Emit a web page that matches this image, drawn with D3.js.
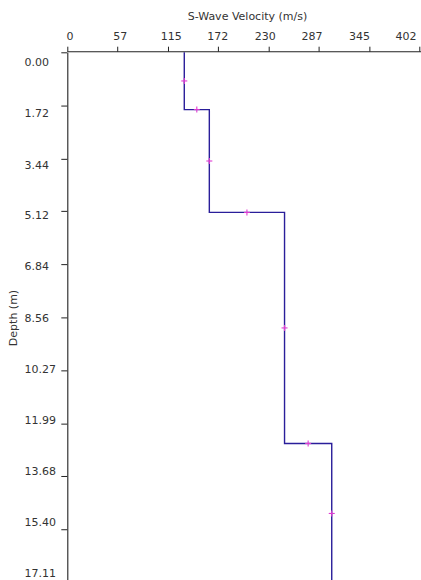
<!DOCTYPE html>
<html>
<head>
<meta charset="utf-8">
<script src="https://cdn.jsdelivr.net/npm/d3@7"></script>
<style>
  html, body { margin: 0; padding: 0; background: #fff; }
  svg { display: block; }
  text { font-family: "DejaVu Sans", sans-serif; font-size: 11px; fill: #333; }
</style>
</head>
<body>
<svg id="chart" width="421" height="580"></svg>
<script>
// ---- data ----
const velocityTicks = [0, 57, 115, 172, 230, 287, 345, 402];
const depthTicks = [0, 1.72, 3.44, 5.12, 6.84, 8.56, 10.27, 11.99, 13.68, 15.40, 17.11];
const layerTop = [0, 1.85, 5.17, 12.63];
const layerBottom = [1.85, 5.17, 12.63, 17.15];
const layerVelocity = [133.6, 162.2, 248.1, 302.0];
const xTitle = "S-Wave Velocity (m/s)";
const yTitle = "Depth (m)";

// ---- scales ----
const svg = d3.select("#chart");
const x = d3.scaleLinear().domain([0, 402]).range([67.3, 419.3]);
const y = d3.scaleLinear().domain([0, 17.11]).range([52.3, 582.2]);
// tick labels in the original are spaced slightly tighter than the ticks
const xLabel = d3.scaleLinear().domain([0, 402]).range([66.6, 395.6]);
const yLabel = d3.scaleLinear().domain([0, 17.11]).range([61.7, 573.5]);

// ---- axes ----
const gx = svg.append("g").attr("transform", `translate(0,${y(0) - 0.6})`)
  .call(d3.axisTop(x).tickValues(velocityTicks).tickSize(5).tickSizeOuter(0).tickFormat(""));
const gy = svg.append("g").attr("transform", `translate(${x(0)},0)`)
  .call(d3.axisLeft(y).tickValues(depthTicks).tickSize(6).tickSizeOuter(0).tickFormat(""));
[gx, gy].forEach(g => {
  g.selectAll("path.domain").attr("stroke", "#222").attr("stroke-width", 1.1);
  g.selectAll(".tick line").attr("stroke", "#222").attr("stroke-width", 1);
});
gx.select("path.domain").attr("d", `M${x(0)},0H421`);

svg.append("g").selectAll("text").data(velocityTicks).join("text")
  .attr("x", d => xLabel(d)).attr("y", 40)
  .attr("text-anchor", "start")
  .text(d => d3.format("d")(d));

svg.append("g").selectAll("text").data(depthTicks).join("text")
  .attr("x", 24.5).attr("y", d => yLabel(d)).attr("dy", "0.36em")
  .attr("text-anchor", "start")
  .text(d => d3.format(".2f")(d));

svg.append("text").attr("x", 247.5).attr("y", 20).attr("text-anchor", "middle").text(xTitle);
svg.append("text").attr("transform", "translate(17,318) rotate(-90)")
  .attr("text-anchor", "middle").text(yTitle);

// ---- step profile ----
const pts = [];
layerVelocity.forEach((v, i) => {
  pts.push([v, layerTop[i]]);
  pts.push([v, layerBottom[i]]);
});
const line = d3.line().x(d => x(d[0])).y(d => y(d[1]));
svg.append("path").datum(pts)
  .attr("fill", "none").attr("stroke", "#2a1e9a").attr("stroke-width", 1.4)
  .attr("d", line);

// markers at the middle of each segment
const mids = d3.pairs(pts).map(([a, b]) => [(a[0] + b[0]) / 2, (a[1] + b[1]) / 2]);
const mk = svg.append("g").attr("stroke", "#e03cd2").attr("stroke-width", 1.1);
mids.forEach(m => {
  const cx = x(m[0]), cy = y(m[1]);
  mk.append("line").attr("x1", cx - 3).attr("x2", cx + 3).attr("y1", cy).attr("y2", cy);
  mk.append("line").attr("x1", cx).attr("x2", cx).attr("y1", cy - 3).attr("y2", cy + 3);
});
</script>
</body>
</html>
